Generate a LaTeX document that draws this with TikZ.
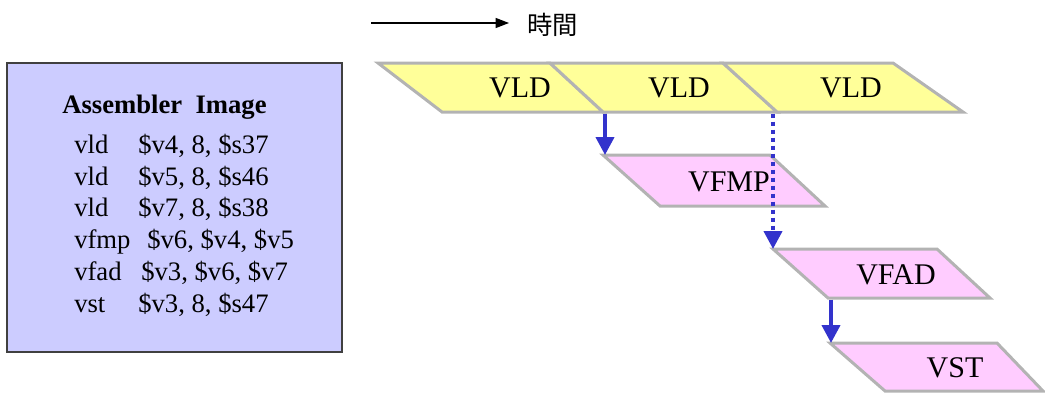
\documentclass[tikz,border=0pt]{standalone}
\usepackage{fontspec}
\setmainfont{Liberation Serif}
\newfontfamily\cjk{Noto Sans CJK JP}
\usetikzlibrary{arrows.meta}
\definecolor{boxfill}{HTML}{CCCCFF}
\definecolor{ylw}{HTML}{FFFF99}
\definecolor{pnk}{HTML}{FFCCFF}
\definecolor{edge}{HTML}{B3B3B3}
\definecolor{blu}{HTML}{3333CC}
\tikzset{
  cellA/.style={fill=ylw, draw=edge, line width=2.25pt, line join=miter},
  cellB/.style={fill=pnk, draw=edge, line width=2.25pt, line join=miter},
  celltxt/.style={inner sep=0pt, font=\fontsize{22.5}{26}\selectfont},
  asm/.style={inner sep=0pt, anchor=base west, font=\fontsize{20}{24}\selectfont},
  deparrow/.style={draw=blu, line width=3pt, -{Triangle[length=13.5pt,width=13.5pt]}, shorten >=0pt},
  dotarrow/.style={deparrow, dash pattern=on 3pt off 3pt},
}
\begin{document}
\begin{tikzpicture}[x=0.75pt,y=-0.75pt]
\useasboundingbox (0,0) rectangle (1045,393);
% time arrow
\coordinate (t0) at (371,23);
\node[inner sep=0pt, anchor=west, font=\cjk\fontsize{19}{22}\selectfont] (jikan) at (527,25) {時間};
\coordinate (t1) at (509,23);
\draw[line width=0.9pt, -{Triangle[length=10pt,width=7.5pt]}] (t0) -- (t1);
% assembler box
\draw[fill=boxfill, draw=black!75, line width=0.8pt] (7,63) rectangle (342,352);
\node[asm, font=\bfseries\fontsize{20}{24}\selectfont] (title) at (62,113) {Assembler\ \ Image};
\node[asm] (m1) at (74,153) {vld};  \node[asm] (o1) at (138,153) {\$v4, 8, \$s37};
\node[asm] (m2) at (74,185) {vld};  \node[asm] (o2) at (138,185) {\$v5, 8, \$s46};
\node[asm] (m3) at (74,216) {vld};  \node[asm] (o3) at (138,216) {\$v7, 8, \$s38};
\node[asm] (m4) at (74,248) {vfmp}; \node[asm] (o4) at (147,248) {\$v6, \$v4, \$v5};
\node[asm] (m5) at (74,280) {vfad}; \node[asm] (o5) at (141,280) {\$v3, \$v6, \$v7};
\node[asm] (m6) at (74,312) {vst};  \node[asm] (o6) at (138,312) {\$v3, 8, \$s47};
% top row VLD cells
\coordinate (a1) at (378,63); \coordinate (a2) at (550,63); \coordinate (a3) at (723,63); \coordinate (a4) at (893,63);
\coordinate (b1) at (442,112); \coordinate (b2) at (603,112); \coordinate (b3) at (777,112); \coordinate (b4) at (963,112);
\draw[cellA] (a1) -- (a2) -- (b2) -- (b1) -- cycle;
\draw[cellA] (a2) -- (a3) -- (b3) -- (b2) -- cycle;
\draw[cellA] (a3) -- (a4) -- (b4) -- (b3) -- cycle;
\node[celltxt] (vld1) at (520,88) {VLD};
\node[celltxt] (vld2) at (679,88) {VLD};
\node[celltxt] (vld3) at (851,88) {VLD};
% VFMP
\coordinate (p1) at (603,155); \coordinate (p2) at (770,155); \coordinate (p3) at (825,206); \coordinate (p4) at (660,206);
\draw[cellB] (p1) -- (p2) -- (p3) -- (p4) -- cycle;
\node[celltxt] (vfmp) at (729,182) {VFMP};
% VFAD
\coordinate (q1) at (773,249); \coordinate (q2) at (937,249); \coordinate (q3) at (990,298); \coordinate (q4) at (828,298);
\draw[cellB] (q1) -- (q2) -- (q3) -- (q4) -- cycle;
\node[celltxt] (vfad) at (896,275) {VFAD};
% VST
\coordinate (r1) at (830,343); \coordinate (r2) at (997,343); \coordinate (r3) at (1043,391); \coordinate (r4) at (885,391);
\draw[cellB] (r1) -- (r2) -- (r3) -- (r4) -- cycle;
\node[celltxt] (vst) at (955,368) {VST};
% dependency arrows
\coordinate (s1) at (605,113.5);
\coordinate (e1) at (605,155);
\draw[deparrow] (s1) -- (e1);
\coordinate (s2) at (773,113.5);
\coordinate (e2) at (773,249);
\draw[dotarrow] (s2) -- (e2);
\coordinate (s3) at (831,299.5);
\coordinate (e3) at (831,343);
\draw[deparrow] (s3) -- (e3);
\end{tikzpicture}
\end{document}
